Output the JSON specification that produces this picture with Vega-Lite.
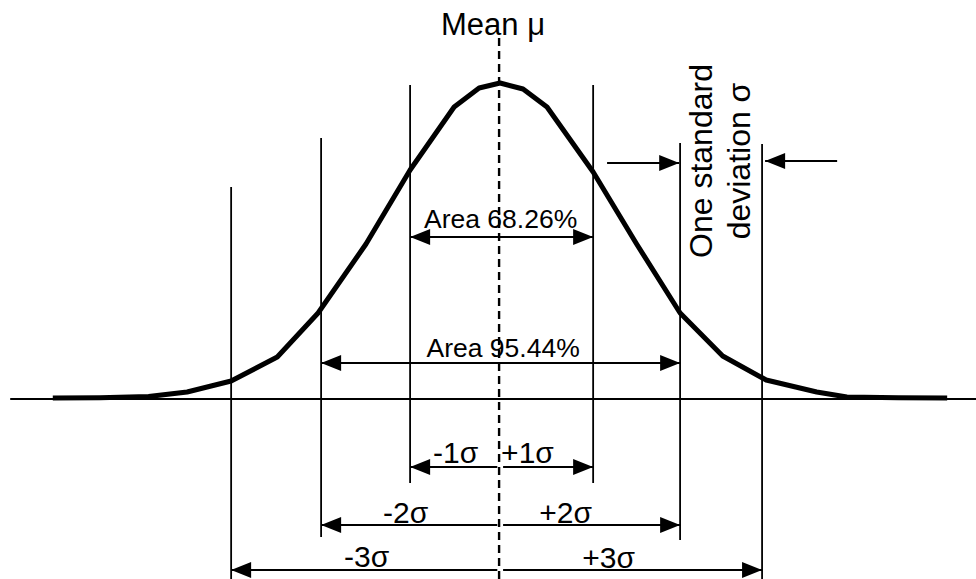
{
  "$schema": "https://vega.github.io/schema/vega-lite/v6.json",
  "width": 976,
  "height": 579,
  "padding": 0,
  "autosize": {"type": "none"},
  "background": "white",
  "config": {"view": {"stroke": null}},
  "datasets": {
    "curve": [
      {"x": -5.03, "h": 0},
      {"x": -4.5, "h": 0.3},
      {"x": -3.95, "h": 1.5},
      {"x": -3.516, "h": 6},
      {"x": -3.02, "h": 17},
      {"x": -2.5, "h": 41},
      {"x": -2.04, "h": 85},
      {"x": -1.5, "h": 154},
      {"x": -1.003, "h": 228},
      {"x": -0.507, "h": 291},
      {"x": -0.225, "h": 310},
      {"x": 0.011, "h": 315},
      {"x": 0.27, "h": 309},
      {"x": 0.54, "h": 291},
      {"x": 1.06, "h": 226},
      {"x": 1.55, "h": 154},
      {"x": 2.04, "h": 85},
      {"x": 2.52, "h": 42},
      {"x": 3.01, "h": 18},
      {"x": 3.58, "h": 6},
      {"x": 3.92, "h": 1},
      {"x": 4.5, "h": 0.3},
      {"x": 5.05, "h": 0}
    ],
    "verticals": [
      {"x": -3.02, "top": 211, "bottom": -185, "style": "solid"},
      {"x": -2.006, "top": 260, "bottom": -139, "style": "solid"},
      {"x": -1.003, "top": 313, "bottom": -85, "style": "solid"},
      {"x": 0, "top": 360, "bottom": -185, "style": "dashed"},
      {"x": 1.06, "top": 313, "bottom": -85, "style": "solid"},
      {"x": 2.04, "top": 255, "bottom": -142, "style": "solid"},
      {"x": 2.964, "top": 254, "bottom": -185, "style": "solid"}
    ],
    "arrows": [
      {"name": "axis", "left": -5.51, "right": 5.375, "y": -1, "heads": "none"},
      {"name": "Area 68.26%", "left": -1.003, "right": 1.06, "y": 161, "heads": "both"},
      {"name": "Area 95.44%", "left": -2.006, "right": 2.04, "y": 35, "heads": "both"},
      {"name": "-1σ", "left": -1.003, "right": -0.02, "y": -69, "heads": "left"},
      {"name": "+1σ", "left": 0.045, "right": 1.06, "y": -69, "heads": "right"},
      {"name": "-2σ", "left": -2.006, "right": -0.02, "y": -127, "heads": "left"},
      {"name": "+2σ", "left": 0.045, "right": 2.04, "y": -127, "heads": "right"},
      {"name": "-3σ", "left": -3.02, "right": -0.02, "y": -172, "heads": "left"},
      {"name": "+3σ", "left": 0.045, "right": 2.964, "y": -172, "heads": "right"},
      {"name": "sd in from left", "left": 1.217, "right": 2.03, "y": 235, "heads": "right"},
      {"name": "sd in from right", "left": 2.998, "right": 3.81, "y": 237, "heads": "left"}
    ],
    "labels": [
      {"text": "Mean μ", "x": -0.068, "y": 363, "kind": "mean"},
      {"text": "Area 68.26%", "x": 0.017, "y": 170, "kind": "area"},
      {"text": "Area 95.44%", "x": 0.045, "y": 41, "kind": "area"},
      {"text": "-1σ", "x": -0.49, "y": -65, "kind": "sigma"},
      {"text": "+1σ", "x": 0.32, "y": -65, "kind": "sigma"},
      {"text": "-2σ", "x": -1.054, "y": -125, "kind": "sigma"},
      {"text": "+2σ", "x": 0.749, "y": -125, "kind": "sigma"},
      {"text": "-3σ", "x": -1.493, "y": -169, "kind": "sigma"},
      {"text": "+3σ", "x": 1.234, "y": -170, "kind": "sigma"},
      {"text": "One standard\ndeviation σ", "x": 2.40, "y": 237, "kind": "rotated"}
    ]
  },
  "layer": [
    {
      "data": {"name": "verticals"},
      "transform": [{"filter": "datum.style === 'solid'"}],
      "mark": {"type": "rule", "color": "black", "strokeWidth": 1.8},
      "encoding": {
        "x": {"field": "x", "type": "quantitative", "scale": {"domain": [-5.625, 5.375], "nice": false, "zero": false}, "axis": null},
        "y": {"field": "top", "type": "quantitative", "scale": {"domain": [-181, 398], "nice": false, "zero": false}, "axis": null},
        "y2": {"field": "bottom"}
      }
    },
    {
      "data": {"name": "verticals"},
      "transform": [{"filter": "datum.style === 'dashed'"}],
      "mark": {"type": "rule", "color": "black", "strokeWidth": 2.4, "strokeDash": [8, 5]},
      "encoding": {
        "x": {"field": "x", "type": "quantitative", "axis": null},
        "y": {"field": "top", "type": "quantitative", "axis": null},
        "y2": {"field": "bottom"}
      }
    },
    {
      "data": {"name": "arrows"},
      "mark": {"type": "rule", "color": "black", "strokeWidth": 1.8},
      "encoding": {
        "x": {"field": "left", "type": "quantitative", "axis": null},
        "x2": {"field": "right"},
        "y": {"field": "y", "type": "quantitative", "axis": null}
      }
    },
    {
      "data": {"name": "arrows"},
      "transform": [{"filter": "datum.heads === 'left' || datum.heads === 'both'"}],
      "mark": {"type": "point", "shape": "M0,0L2,-0.8L2,0.8Z", "size": 400, "filled": true, "color": "black", "opacity": 1, "strokeWidth": 0},
      "encoding": {
        "x": {"field": "left", "type": "quantitative", "axis": null},
        "y": {"field": "y", "type": "quantitative", "axis": null}
      }
    },
    {
      "data": {"name": "arrows"},
      "transform": [{"filter": "datum.heads === 'right' || datum.heads === 'both'"}],
      "mark": {"type": "point", "shape": "M0,0L-2,-0.8L-2,0.8Z", "size": 400, "filled": true, "color": "black", "opacity": 1, "strokeWidth": 0},
      "encoding": {
        "x": {"field": "right", "type": "quantitative", "axis": null},
        "y": {"field": "y", "type": "quantitative", "axis": null}
      }
    },
    {
      "data": {"name": "curve"},
      "mark": {"type": "line", "color": "black", "strokeWidth": 5, "strokeJoin": "round", "strokeCap": "butt"},
      "encoding": {
        "x": {"field": "x", "type": "quantitative", "axis": null},
        "y": {"field": "h", "type": "quantitative", "axis": null}
      }
    },
    {
      "data": {"name": "labels"},
      "transform": [{"filter": "datum.kind === 'mean'"}],
      "mark": {"type": "text", "font": "Liberation Sans", "fontSize": 31, "align": "center", "baseline": "alphabetic", "color": "black"},
      "encoding": {
        "x": {"field": "x", "type": "quantitative", "axis": null},
        "y": {"field": "y", "type": "quantitative", "axis": null},
        "text": {"field": "text"}
      }
    },
    {
      "data": {"name": "labels"},
      "transform": [{"filter": "datum.kind === 'area'"}],
      "mark": {"type": "text", "font": "Liberation Sans", "fontSize": 26.5, "align": "center", "baseline": "alphabetic", "color": "black"},
      "encoding": {
        "x": {"field": "x", "type": "quantitative", "axis": null},
        "y": {"field": "y", "type": "quantitative", "axis": null},
        "text": {"field": "text"}
      }
    },
    {
      "data": {"name": "labels"},
      "transform": [{"filter": "datum.kind === 'sigma'"}],
      "mark": {"type": "text", "font": "Liberation Sans", "fontSize": 30, "align": "center", "baseline": "alphabetic", "color": "black"},
      "encoding": {
        "x": {"field": "x", "type": "quantitative", "axis": null},
        "y": {"field": "y", "type": "quantitative", "axis": null},
        "text": {"field": "text"}
      }
    },
    {
      "data": {"name": "labels"},
      "transform": [{"filter": "datum.kind === 'rotated'"}],
      "mark": {"type": "text", "font": "Liberation Sans", "fontSize": 32, "align": "center", "baseline": "alphabetic", "angle": -90, "lineBreak": "\n", "lineHeight": 38, "color": "black"},
      "encoding": {
        "x": {"field": "x", "type": "quantitative", "axis": null},
        "y": {"field": "y", "type": "quantitative", "axis": null},
        "text": {"field": "text"}
      }
    }
  ]
}
